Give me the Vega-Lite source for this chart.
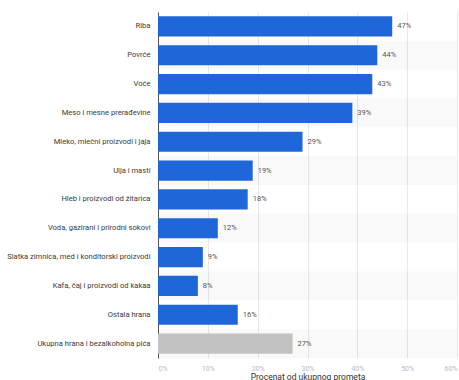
{
  "$schema": "https://vega.github.io/schema/vega-lite/v6.json",
  "width": 299,
  "height": 346,
  "autosize": {"type": "none"},
  "padding": {"left": 158, "top": 12, "right": 2, "bottom": 22},
  "background": "white",
  "config": {"view": {"stroke": null}, "font": "Roboto"},
  "data": {"values": [
    {"kategorija": "Riba", "procenat": 47, "tip": "a"},
    {"kategorija": "Povrće", "procenat": 44, "tip": "a"},
    {"kategorija": "Voće", "procenat": 43, "tip": "a"},
    {"kategorija": "Meso i mesne prerađevine", "procenat": 39, "tip": "a"},
    {"kategorija": "Mleko, mlečni proizvodi i jaja", "procenat": 29, "tip": "a"},
    {"kategorija": "Ulja i masti", "procenat": 19, "tip": "a"},
    {"kategorija": "Hleb i proizvodi od žitarica", "procenat": 18, "tip": "a"},
    {"kategorija": "Voda, gazirani i prirodni sokovi", "procenat": 12, "tip": "a"},
    {"kategorija": "Slatka zimnica, med i konditorski proizvodi", "procenat": 9, "tip": "a"},
    {"kategorija": "Kafa, čaj i proizvodi od kakaa", "procenat": 8, "tip": "a"},
    {"kategorija": "Ostala hrana", "procenat": 16, "tip": "a"},
    {"kategorija": "Ukupna hrana i bezalkoholna pića", "procenat": 27, "tip": "b"}
  ]},
  "transform": [
    {"window": [{"op": "row_number", "as": "rb"}]},
    {"calculate": "datum.procenat + '%'", "as": "oznaka"}
  ],
  "resolve": {"scale": {"y": "independent"}},
  "layer": [
    {
      "transform": [{"filter": "datum.rb % 2 == 0"}],
      "mark": {"type": "bar", "color": "#000000", "opacity": 0.025},
      "encoding": {
        "y": {"field": "kategorija", "type": "nominal", "sort": null,
          "scale": {"domain": ["Riba", "Povrće", "Voće", "Meso i mesne prerađevine", "Mleko, mlečni proizvodi i jaja", "Ulja i masti", "Hleb i proizvodi od žitarica", "Voda, gazirani i prirodni sokovi", "Slatka zimnica, med i konditorski proizvodi", "Kafa, čaj i proizvodi od kakaa", "Ostala hrana", "Ukupna hrana i bezalkoholna pića"], "paddingInner": 0, "paddingOuter": 0},
          "axis": null},
        "x": {"datum": 0, "type": "quantitative", "scale": {"domain": [0, 60]}},
        "x2": {"datum": 60}
      }
    },
    {
      "layer": [
        {
          "mark": {"type": "bar"},
          "encoding": {
            "x": {
              "field": "procenat", "type": "quantitative",
              "scale": {"domain": [0, 60]},
              "axis": {"values": [0, 10, 20, 30, 40, 50, 60], "labelExpr": "datum.value + '%'", "title": "Procenat od ukupnog prometa", "titleFontSize": 8.5, "titleFontWeight": "normal", "titleColor": "#333333", "titlePadding": 1, "labelFontSize": 7, "labelColor": "#bbbbbb", "domain": false, "ticks": false, "grid": true, "gridColor": "#e8e8e8", "labelPadding": 6}
            },
            "color": {"field": "tip", "type": "nominal", "scale": {"domain": ["a", "b"], "range": ["#1f66d8", "#c2c2c2"]}, "legend": null}
          }
        },
        {
          "mark": {"type": "text", "align": "left", "dx": 5, "fontSize": 7.5, "color": "#555555"},
          "encoding": {
            "x": {"field": "procenat", "type": "quantitative"},
            "text": {"field": "oznaka", "type": "nominal"}
          }
        }
      ],
      "encoding": {
        "y": {
          "field": "kategorija", "type": "nominal", "sort": null,
          "scale": {"paddingInner": 0.3, "paddingOuter": 0.15},
          "axis": {"title": null, "ticks": false, "labelFontSize": 7.6, "labelColor": "#3a3a3a", "labelPadding": 8, "domainColor": "#555555", "domainWidth": 1}
        }
      }
    }
  ]
}
